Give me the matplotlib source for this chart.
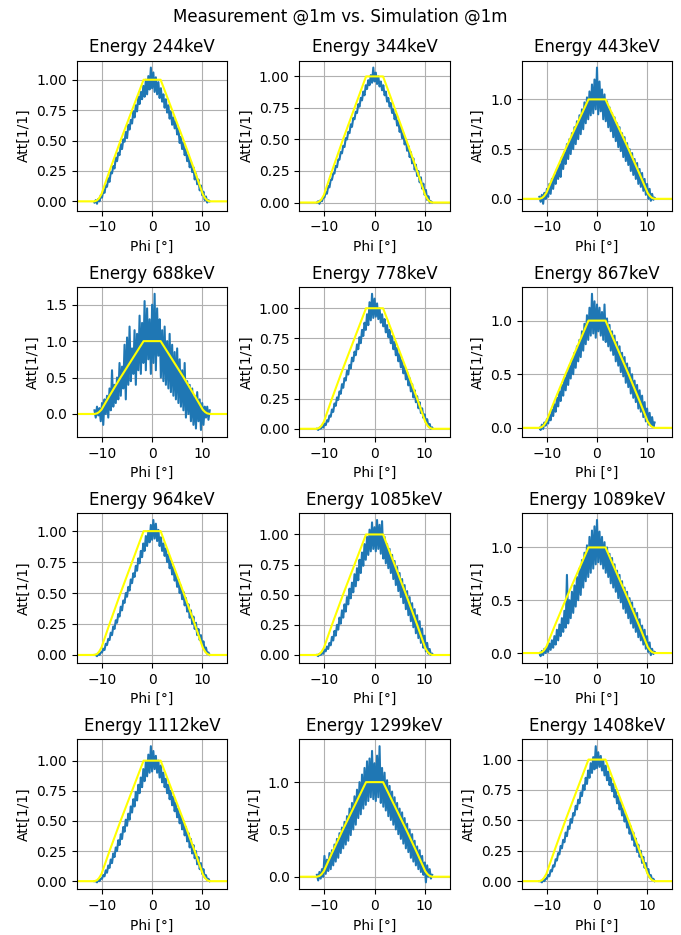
import numpy as np
import matplotlib
matplotlib.use('Agg')
import matplotlib.pyplot as plt

# measurement grid (deg), 0.25 deg steps
PHI_MIN, PHI_MAX = -11.5, 11.5

ENERGIES = [244, 344, 443, 688, 778, 867, 964, 1085, 1089, 1112, 1299, 1408]

# simulated attenuation profile (same for every energy)
SIM_PHI = [-15, -11.5, -11.0, -10.6, -10.1, -9.6, -8.5, -6.3, -1.7, 1.7, 6.3, 8.5, 9.6, 10.1, 10.6, 11.0, 11.5, 15]
SIM_ATT = [0.0, 0.0, 0.008, 0.025, 0.06, 0.12, 0.25, 0.5, 1.0, 1.0, 0.5, 0.25, 0.12, 0.06, 0.025, 0.008, 0.0, 0.0]

meas_244 = [-0.01, 0.01, -0.02, 0.02, 0.00, 0.05, 0.03, 0.09, 0.07, 0.13, 0.12, 0.19, 0.16, 0.24, 0.23, 0.29, 0.27, 0.36, 0.33, 0.40, 0.38, 0.47, 0.43, 0.51, 0.49, 0.57, 0.52, 0.63, 0.59, 0.67, 0.64, 0.74, 0.69, 0.79, 0.74, 0.86, 0.80, 0.90, 0.84, 0.95, 0.86, 1.00, 0.88, 1.03, 0.92, 1.10, 0.93,
            1.06, 0.90, 1.02, 0.88, 0.98, 0.85, 0.93, 0.82, 0.88, 0.77, 0.84, 0.73, 0.79, 0.68, 0.74, 0.63, 0.69, 0.60, 0.66, 0.55, 0.60, 0.48, 0.53, 0.43, 0.48, 0.38, 0.43, 0.33, 0.38, 0.28, 0.33, 0.24, 0.28, 0.18, 0.23, 0.14, 0.18, 0.09, 0.13, 0.05, 0.08, 0.01, 0.04, -0.01, 0.01, 0.00]
meas_344 = [0.00, 0.01, -0.01, 0.02, 0.01, 0.04, 0.04, 0.08, 0.07, 0.13, 0.12, 0.18, 0.18, 0.23, 0.23, 0.29, 0.28, 0.34, 0.34, 0.40, 0.39, 0.45, 0.44, 0.51, 0.50, 0.56, 0.55, 0.62, 0.60, 0.67, 0.66, 0.72, 0.71, 0.78, 0.76, 0.83, 0.81, 0.88, 0.85, 0.93, 0.90, 0.97, 0.93, 1.01, 0.95, 1.07, 0.96,
            1.03, 0.94, 1.00, 0.92, 0.96, 0.89, 0.93, 0.85, 0.88, 0.80, 0.83, 0.76, 0.79, 0.71, 0.74, 0.66, 0.70, 0.61, 0.65, 0.56, 0.60, 0.51, 0.55, 0.46, 0.50, 0.41, 0.45, 0.36, 0.40, 0.31, 0.35, 0.26, 0.30, 0.21, 0.25, 0.16, 0.20, 0.11, 0.15, 0.06, 0.10, 0.02, 0.05, 0.00, 0.01, 0.00]
meas_443 = [0.02, -0.03, 0.04, -0.05, 0.06, 0.00, 0.10, 0.02, 0.15, 0.05, 0.20, 0.10, 0.24, 0.15, 0.30, 0.20, 0.35, 0.22, 0.42, 0.30, 0.47, 0.35, 0.55, 0.40, 0.60, 0.45, 0.66, 0.50, 0.72, 0.55, 0.78, 0.60, 0.84, 0.65, 0.90, 0.70, 0.97, 0.76, 1.02, 0.80, 1.08, 0.84, 1.15, 0.86, 1.20, 0.90, 1.32,
            0.85, 1.18, 0.88, 1.10, 0.80, 1.05, 0.78, 0.98, 0.72, 0.92, 0.68, 0.86, 0.62, 0.82, 0.58, 0.76, 0.52, 0.72, 0.48, 0.66, 0.42, 0.62, 0.38, 0.56, 0.34, 0.50, 0.28, 0.46, 0.24, 0.40, 0.20, 0.36, 0.15, 0.30, 0.12, 0.26, 0.08, 0.20, 0.04, 0.15, 0.00, 0.10, -0.02, 0.05, -0.01, 0.01]
meas_688 = [0.05, -0.05, 0.10, -0.02, 0.08, -0.10, 0.15, -0.15, 0.20, 0.00, 0.25, -0.05, 0.35, 0.05, 0.60, 0.10, 0.40, 0.15, 0.50, 0.20, 0.70, 0.25, 0.65, 0.35, 0.95, 0.20, 1.05, 0.40, 1.20, 0.45, 0.90, 0.55, 1.15, 0.40, 1.10, 0.60, 1.35, 0.55, 1.25, 0.70, 1.55, 0.60, 1.45, 0.75, 1.30, 0.55, 1.50,
            0.70, 1.65, 0.60, 1.45, 0.80, 1.30, 0.50, 1.15, 0.45, 1.20, 0.40, 1.00, 0.35, 1.10, 0.30, 0.95, 0.25, 0.85, 0.20, 0.90, 0.15, 0.75, 0.10, 0.60, 0.05, 0.70, -0.05, 0.45, 0.00, 0.40, -0.10, 0.35, -0.15, 0.25, -0.20, 0.30, -0.10, 0.20, -0.22, 0.15, -0.15, 0.10, -0.05, 0.10, -0.08, 0.05]
meas_778 = [0.00, -0.01, 0.01, 0.00, 0.02, 0.01, 0.04, 0.03, 0.07, 0.06, 0.11, 0.10, 0.16, 0.14, 0.21, 0.19, 0.26, 0.24, 0.31, 0.29, 0.37, 0.34, 0.42, 0.40, 0.48, 0.45, 0.53, 0.50, 0.59, 0.56, 0.64, 0.61, 0.70, 0.66, 0.76, 0.71, 0.82, 0.77, 0.88, 0.82, 0.95, 0.86, 1.05, 0.90, 1.12, 0.92, 1.08,
            0.93, 1.04, 0.91, 1.00, 0.88, 0.95, 0.85, 0.91, 0.80, 0.86, 0.76, 0.82, 0.71, 0.77, 0.66, 0.72, 0.61, 0.67, 0.56, 0.62, 0.51, 0.57, 0.46, 0.52, 0.41, 0.47, 0.36, 0.42, 0.31, 0.37, 0.26, 0.32, 0.22, 0.27, 0.17, 0.22, 0.13, 0.17, 0.09, 0.12, 0.05, 0.08, 0.02, 0.04, 0.00, 0.01]
meas_867 = [0.00, -0.02, 0.03, -0.01, 0.05, 0.02, 0.08, 0.04, 0.12, 0.07, 0.17, 0.11, 0.22, 0.15, 0.28, 0.20, 0.34, 0.25, 0.40, 0.30, 0.47, 0.35, 0.52, 0.40, 0.58, 0.46, 0.64, 0.50, 0.70, 0.56, 0.76, 0.62, 0.82, 0.66, 0.90, 0.72, 0.97, 0.78, 1.05, 0.82, 1.12, 0.86, 1.25, 0.88, 1.18, 0.84, 1.15,
            0.90, 1.12, 0.86, 1.08, 0.82, 1.15, 0.80, 1.02, 0.76, 0.96, 0.72, 0.90, 0.68, 0.86, 0.62, 0.80, 0.58, 0.76, 0.52, 0.70, 0.48, 0.66, 0.42, 0.60, 0.38, 0.56, 0.32, 0.50, 0.28, 0.44, 0.24, 0.40, 0.18, 0.35, 0.15, 0.30, 0.10, 0.24, 0.06, 0.18, 0.03, 0.14, 0.02, 0.10, 0.01, 0.05]
meas_964 = [0.00, 0.00, -0.01, 0.01, 0.00, 0.02, 0.02, 0.05, 0.04, 0.09, 0.08, 0.13, 0.12, 0.18, 0.16, 0.23, 0.21, 0.28, 0.26, 0.33, 0.31, 0.39, 0.36, 0.44, 0.42, 0.50, 0.47, 0.55, 0.52, 0.61, 0.58, 0.66, 0.63, 0.72, 0.68, 0.78, 0.74, 0.84, 0.79, 0.90, 0.84, 0.96, 0.88, 1.00, 0.91, 1.05, 0.93,
            1.09, 0.94, 1.06, 0.92, 1.01, 0.88, 0.95, 0.84, 0.90, 0.80, 0.86, 0.75, 0.81, 0.70, 0.76, 0.65, 0.71, 0.60, 0.66, 0.55, 0.61, 0.50, 0.56, 0.45, 0.51, 0.40, 0.46, 0.35, 0.41, 0.30, 0.36, 0.25, 0.31, 0.21, 0.26, 0.16, 0.21, 0.12, 0.16, 0.08, 0.11, 0.04, 0.06, 0.01, 0.02, 0.00]
meas_1085 = [0.00, -0.01, 0.01, 0.00, 0.02, 0.01, 0.04, 0.03, 0.07, 0.05, 0.10, 0.08, 0.15, 0.12, 0.20, 0.16, 0.25, 0.21, 0.31, 0.26, 0.37, 0.31, 0.42, 0.36, 0.48, 0.42, 0.55, 0.47, 0.60, 0.52, 0.67, 0.57, 0.72, 0.62, 0.79, 0.68, 0.85, 0.74, 0.92, 0.79, 0.98, 0.83, 1.04, 0.86, 1.10, 0.88, 1.06,
             0.86, 1.12, 0.88, 1.08, 0.84, 1.11, 0.80, 0.98, 0.76, 0.92, 0.72, 0.88, 0.68, 0.83, 0.63, 0.78, 0.58, 0.73, 0.53, 0.68, 0.48, 0.63, 0.43, 0.58, 0.38, 0.53, 0.33, 0.48, 0.28, 0.43, 0.23, 0.38, 0.18, 0.33, 0.14, 0.28, 0.10, 0.22, 0.06, 0.16, 0.03, 0.10, 0.01, 0.05, 0.00, 0.01]
meas_1089 = [0.00, -0.03, 0.02, -0.02, 0.04, 0.00, 0.06, 0.01, 0.09, 0.03, 0.12, 0.05, 0.16, 0.08, 0.22, 0.12, 0.27, 0.16, 0.33, 0.20, 0.40, 0.24, 0.74, 0.28, 0.50, 0.33, 0.58, 0.38, 0.64, 0.44, 0.72, 0.50, 0.80, 0.55, 0.88, 0.62, 0.95, 0.68, 1.02, 0.72, 1.10, 0.76, 1.16, 0.80, 1.20, 0.84, 1.26,
             0.86, 1.15, 0.84, 1.10, 0.80, 1.05, 0.76, 1.00, 0.72, 0.94, 0.66, 0.90, 0.62, 0.84, 0.58, 0.78, 0.52, 0.74, 0.48, 0.68, 0.42, 0.62, 0.38, 0.58, 0.33, 0.52, 0.28, 0.48, 0.24, 0.42, 0.20, 0.38, 0.15, 0.32, 0.12, 0.26, 0.08, 0.22, 0.04, 0.16, 0.01, 0.10, -0.02, 0.04, -0.01, 0.01]
meas_1112 = [0.00, 0.00, -0.01, 0.01, 0.00, 0.02, 0.02, 0.05, 0.04, 0.09, 0.07, 0.13, 0.11, 0.18, 0.15, 0.23, 0.20, 0.28, 0.25, 0.34, 0.30, 0.39, 0.35, 0.45, 0.41, 0.51, 0.46, 0.56, 0.51, 0.62, 0.57, 0.68, 0.62, 0.74, 0.67, 0.80, 0.73, 0.86, 0.78, 0.93, 0.83, 0.99, 0.87, 1.05, 0.90, 1.12, 0.91,
             1.08, 0.93, 1.04, 0.90, 1.00, 0.86, 0.96, 0.82, 0.90, 0.78, 0.85, 0.73, 0.80, 0.68, 0.75, 0.63, 0.70, 0.58, 0.65, 0.53, 0.60, 0.48, 0.55, 0.43, 0.50, 0.38, 0.45, 0.33, 0.40, 0.28, 0.35, 0.23, 0.30, 0.19, 0.25, 0.14, 0.20, 0.10, 0.15, 0.06, 0.10, 0.03, 0.05, 0.01, 0.02, 0.00]
meas_1299 = [0.02, -0.04, 0.05, -0.02, 0.08, 0.00, 0.22, 0.03, 0.18, 0.06, 0.25, 0.08, 0.28, 0.12, 0.34, 0.16, 0.40, 0.20, 0.46, 0.25, 0.52, 0.30, 0.58, 0.34, 0.64, 0.38, 0.72, 0.44, 0.78, 0.50, 0.85, 0.55, 0.92, 0.62, 1.00, 0.66, 1.08, 0.72, 1.15, 0.76, 1.22, 0.80, 1.25, 0.84, 1.33, 0.82, 1.20,
             0.80, 1.28, 0.84, 1.38, 0.78, 1.15, 0.74, 1.10, 0.70, 1.02, 0.64, 0.96, 0.60, 0.90, 0.55, 0.84, 0.50, 0.78, 0.45, 0.72, 0.40, 0.68, 0.35, 0.62, 0.30, 0.56, 0.26, 0.50, 0.20, 0.45, 0.16, 0.38, 0.12, 0.32, 0.08, 0.28, 0.05, 0.22, 0.02, 0.15, -0.06, 0.12, 0.00, 0.08, -0.02, 0.02]
meas_1408 = [0.00, 0.00, -0.01, 0.01, 0.00, 0.02, 0.02, 0.05, 0.04, 0.09, 0.08, 0.13, 0.12, 0.18, 0.17, 0.23, 0.22, 0.29, 0.27, 0.34, 0.32, 0.40, 0.37, 0.45, 0.43, 0.51, 0.48, 0.56, 0.54, 0.62, 0.59, 0.67, 0.64, 0.73, 0.70, 0.79, 0.75, 0.85, 0.80, 0.91, 0.85, 0.97, 0.89, 1.02, 0.92, 1.11, 0.93,
             1.06, 0.94, 1.03, 0.91, 0.99, 0.87, 0.95, 0.83, 0.90, 0.79, 0.85, 0.74, 0.80, 0.69, 0.75, 0.64, 0.70, 0.59, 0.65, 0.54, 0.60, 0.49, 0.55, 0.44, 0.50, 0.39, 0.45, 0.34, 0.40, 0.29, 0.35, 0.24, 0.30, 0.20, 0.25, 0.15, 0.20, 0.11, 0.15, 0.07, 0.10, 0.03, 0.05, 0.01, 0.02, 0.00]

measurements = [meas_244, meas_344, meas_443, meas_688, meas_778, meas_867,
                meas_964, meas_1085, meas_1089, meas_1112, meas_1299, meas_1408]


fig, axs = plt.subplots(4, 3, figsize=(6.81, 9.35), dpi=100)
fig.suptitle('Measurement @1m vs. Simulation @1m', y=0.992)

for ax, energy, meas in zip(axs.flat, ENERGIES, measurements):
    phi = np.linspace(PHI_MIN, PHI_MAX, len(meas))
    ax.plot(phi, meas, color='tab:blue')
    ax.plot(SIM_PHI, SIM_ATT, color='yellow')
    ax.set_xlim(-15, 15)
    ax.grid(True)
    ax.set_title('Energy {}keV'.format(energy))
    ax.set_xlabel('Phi [°]')
    ax.set_ylabel('Att[1/1]')

fig.subplots_adjust(left=0.113, right=0.987, top=0.935, bottom=0.049, wspace=0.48, hspace=0.51)
fig.savefig('out.png')
